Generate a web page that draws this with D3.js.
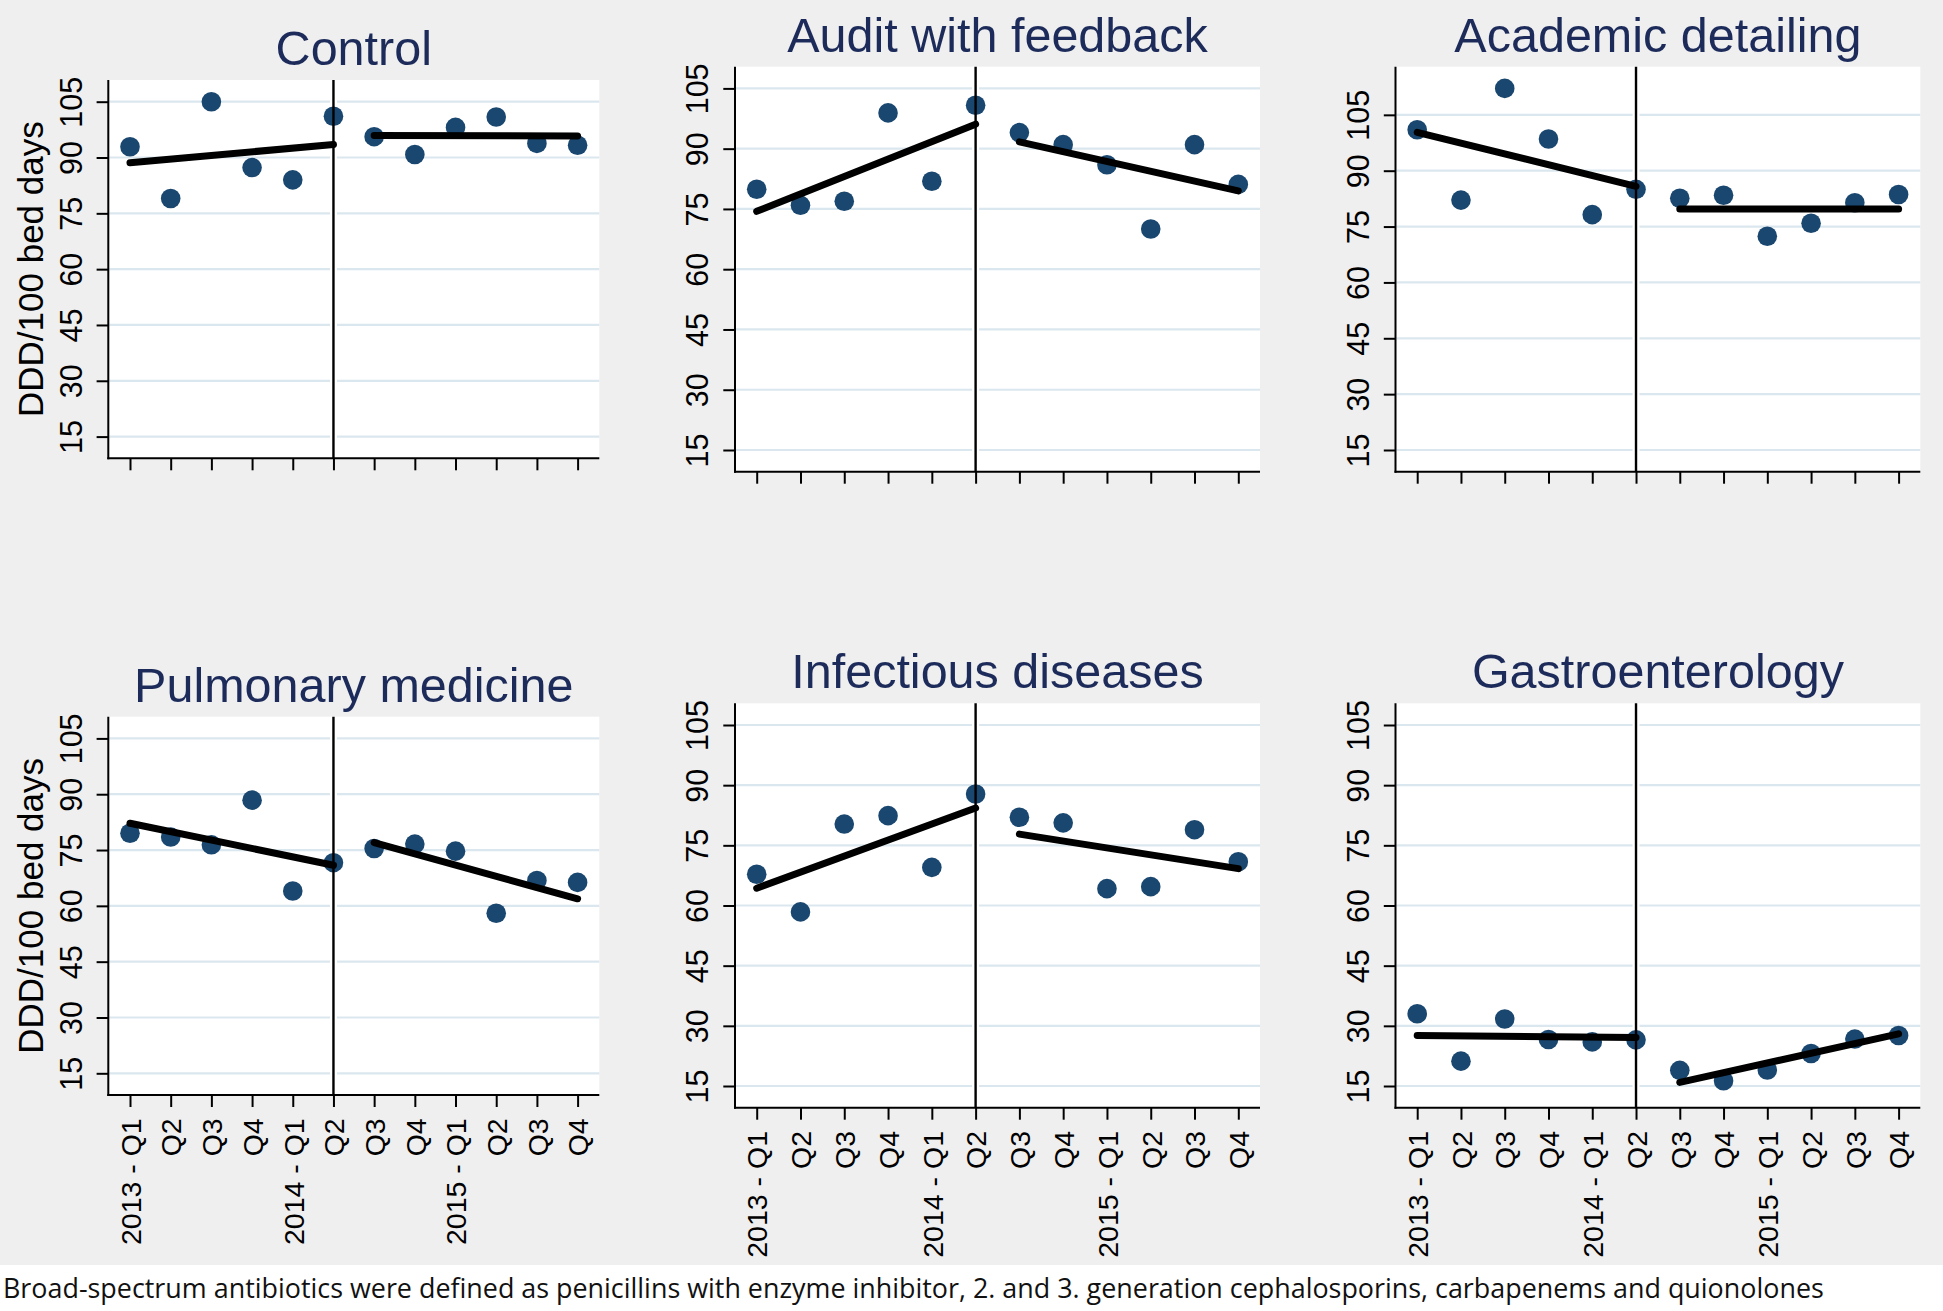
<!DOCTYPE html>
<html><head><meta charset="utf-8">
<script src="https://cdn.jsdelivr.net/npm/d3@7"></script>
<style>html,body{margin:0;padding:0;background:#efefef;} svg{display:block}</style>
</head><body>
<svg id="chart" width="1943" height="1311"></svg>
<script>
// ---------- DATA ----------
const quarterLabels = ["2013 - Q1","Q2","Q3","Q4","2014 - Q1","Q2","Q3","Q4","2015 - Q1","Q2","Q3","Q4"];
const quarterIndex = [1,2,3,4,5,6,7,8,9,10,11,12];
const yTicks = [15,30,45,60,75,90,105];
const interventionQuarter = 6;
const panelTitles = ["Control","Audit with feedback","Academic detailing","Pulmonary medicine","Infectious diseases","Gastroenterology"];
const yAxisTitle = "DDD/100 bed days";
const footnote = "Broad-spectrum antibiotics were defined as penicillins with enzyme inhibitor, 2. and 3. generation cephalosporins, carbapenems and quionolones";

// observed DDD/100 bed days per quarter
const controlValues    = [92.9, 79.0, 105.0, 87.3, 84.0, 101.1, 95.6, 90.8, 98.1, 100.9, 93.8, 93.3];
const auditValues      = [79.9, 75.9, 76.9, 98.9, 81.9, 100.8, 94.0, 91.0, 86.0, 70.0, 91.0, 81.1];
const academicValues   = [101.0, 82.1, 112.1, 98.5, 78.2, 85.0, 82.6, 83.4, 72.4, 75.9, 81.4, 83.6];
const pulmonaryValues  = [79.5, 78.5, 76.4, 88.4, 64.0, 71.6, 75.4, 76.6, 74.7, 58.0, 66.8, 66.3];
const infectiousValues = [67.8, 58.4, 80.3, 82.4, 69.5, 87.8, 82.0, 80.6, 64.2, 64.7, 78.9, 70.9];
const gastroValues     = [33.0, 21.2, 31.7, 26.6, 26.0, 26.5, 18.9, 16.3, 19.0, 23.1, 26.7, 27.6];

// fitted segments: [pre start (Q1 2013), pre end (Q2 2014), post start (Q3 2014), post end (Q4 2015)]
const controlFit    = [88.6, 93.5, 95.9, 95.8];
const auditFit      = [74.4, 96.1, 91.7, 79.5];
const academicFit   = [100.3, 85.8, 79.7, 79.7];
const pulmonaryFit  = [82.2, 70.9, 77.0, 61.9];
const infectiousFit = [64.3, 84.3, 77.8, 69.2];
const gastroFit     = [27.6, 27.1, 15.9, 28.0];

// ---------- LAYOUT ----------
const W = 1943, H = 1311;
const layout = [
  {left:108.3, right:599.3, top:80,    bottom:458.3,  yTitle:true,  xLabels:false},
  {left:735,   right:1260,  top:66.7,  bottom:471.7,  yTitle:false, xLabels:false},
  {left:1395.5,right:1920.3,top:66.7,  bottom:471.7,  yTitle:false, xLabels:false},
  {left:108.3, right:599.3, top:716.7, bottom:1095,   yTitle:true,  xLabels:true},
  {left:735,   right:1260,  top:703.3, bottom:1107.7, yTitle:false, xLabels:true},
  {left:1395.5,right:1920.3,top:703.3, bottom:1107.7, yTitle:false, xLabels:true}
];
const valuesList = [controlValues, auditValues, academicValues, pulmonaryValues, infectiousValues, gastroValues];
const fitList = [controlFit, auditFit, academicFit, pulmonaryFit, infectiousFit, gastroFit];

const FONT = "'Liberation Sans', Arial, Helvetica, sans-serif";
const PAD = 21.7;
const dotColor = "#1a476f";
const titleColor = "#1c2b5a";

const svg = d3.select("#chart");
svg.append("rect").attr("x",0).attr("y",0).attr("width",W).attr("height",H).attr("fill","#efefef");
svg.append("rect").attr("x",0).attr("y",1265).attr("width",W).attr("height",H-1265).attr("fill","#ffffff");

panelTitles.forEach((title, p) => {
  const L = layout[p];
  const vals = valuesList[p];
  const fit = fitList[p];
  const lo = Math.min(yTicks[0], d3.min(vals));
  const hi = Math.max(yTicks[yTicks.length-1], d3.max(vals));
  const x = d3.scaleLinear().domain([1, 12]).range([L.left + PAD, L.right - PAD]);
  const y = d3.scaleLinear().domain([lo, hi]).range([L.bottom - PAD, L.top + PAD]);
  const g = svg.append("g");

  // plot region
  g.append("rect").attr("x", L.left).attr("y", L.top)
    .attr("width", L.right - L.left).attr("height", L.bottom - L.top).attr("fill", "#ffffff");

  // gridlines
  g.selectAll(".grid").data(yTicks).enter().append("line")
    .attr("x1", L.left + 1).attr("x2", L.right)
    .attr("y1", d => y(d)).attr("y2", d => y(d))
    .attr("stroke", "#dbe7ee").attr("stroke-width", 2.2);

  // white halo of intervention line
  g.append("line").attr("x1", x(interventionQuarter)).attr("x2", x(interventionQuarter))
    .attr("y1", L.top).attr("y2", L.bottom).attr("stroke", "#ffffff").attr("stroke-width", 7);

  // y axis
  const yAxis = d3.axisLeft(y).tickValues(yTicks).tickSize(11.7).tickSizeOuter(0);
  const ya = g.append("g").attr("transform", `translate(${L.left},0)`).call(yAxis);
  ya.select(".domain").remove();
  ya.selectAll(".tick line").attr("stroke", "#000").attr("stroke-width", 2);
  ya.selectAll(".tick text")
    .attr("x", null).attr("dy", null)
    .attr("transform", "translate(-26.6,0) rotate(-90)")
    .attr("text-anchor", "middle")
    .attr("font-family", FONT).attr("font-size", 30.5).attr("fill", "#000");

  // x axis
  const xAxis = d3.axisBottom(x).tickValues(quarterIndex).tickSize(12).tickSizeOuter(0)
    .tickFormat((d, i) => L.xLabels ? quarterLabels[i] : "");
  const xa = g.append("g").attr("transform", `translate(0,${L.bottom})`).call(xAxis);
  xa.select(".domain").remove();
  xa.selectAll(".tick line").attr("stroke", "#000").attr("stroke-width", 2);
  xa.selectAll(".tick text")
    .attr("y", null).attr("dy", "0.36em")
    .attr("transform", "translate(0,23.3) rotate(-90)")
    .attr("text-anchor", "end")
    .attr("font-family", FONT).attr("font-size", 28.5).attr("fill", "#000");

  // axis lines
  g.append("line").attr("x1", L.left).attr("x2", L.left).attr("y1", L.top).attr("y2", L.bottom + 1)
    .attr("stroke", "#000").attr("stroke-width", 2);
  g.append("line").attr("x1", L.left - 1).attr("x2", L.right).attr("y1", L.bottom).attr("y2", L.bottom)
    .attr("stroke", "#000").attr("stroke-width", 2);

  // dots
  g.selectAll(".dot").data(vals).enter().append("circle")
    .attr("cx", (d, i) => x(quarterIndex[i])).attr("cy", d => y(d))
    .attr("r", 9.8).attr("fill", dotColor);

  // intervention line
  g.append("line").attr("x1", x(interventionQuarter)).attr("x2", x(interventionQuarter))
    .attr("y1", L.top).attr("y2", L.bottom).attr("stroke", "#000").attr("stroke-width", 2.4);

  // fitted segments
  const line = d3.line().x(d => x(d[0])).y(d => y(d[1]));
  const segs = [[[1, fit[0]], [interventionQuarter, fit[1]]], [[interventionQuarter + 1, fit[2]], [12, fit[3]]]];
  g.selectAll(".fit").data(segs).enter().append("path")
    .attr("d", line).attr("fill", "none").attr("stroke", "#000")
    .attr("stroke-width", 7).attr("stroke-linecap", "round");

  // title
  g.append("text").attr("x", (L.left + L.right) / 2).attr("y", L.top - 15)
    .attr("text-anchor", "middle").attr("font-family", FONT).attr("font-size", 48.5)
    .attr("fill", titleColor).text(title);

  // y axis title
  if (L.yTitle) {
    g.append("text").attr("transform", `translate(43,${(L.top + L.bottom) / 2}) rotate(-90)`)
      .attr("text-anchor", "middle").attr("font-family", FONT).attr("font-size", 35)
      .attr("fill", "#000").text(yAxisTitle);
  }
});

// footnote (condensed horizontally to the reference width)
const foot = svg.append("text").attr("x", 0).attr("y", 0)
  .attr("font-family", "'Open Sans', 'Noto Sans', sans-serif").attr("font-size", 28)
  .attr("fill", "#111").text(footnote);
const natural = foot.node().getComputedTextLength();
const sx = Math.min(1, 1822 / natural);
foot.attr("transform", `translate(3,1298) scale(${sx},1)`);
</script>
</body></html>
